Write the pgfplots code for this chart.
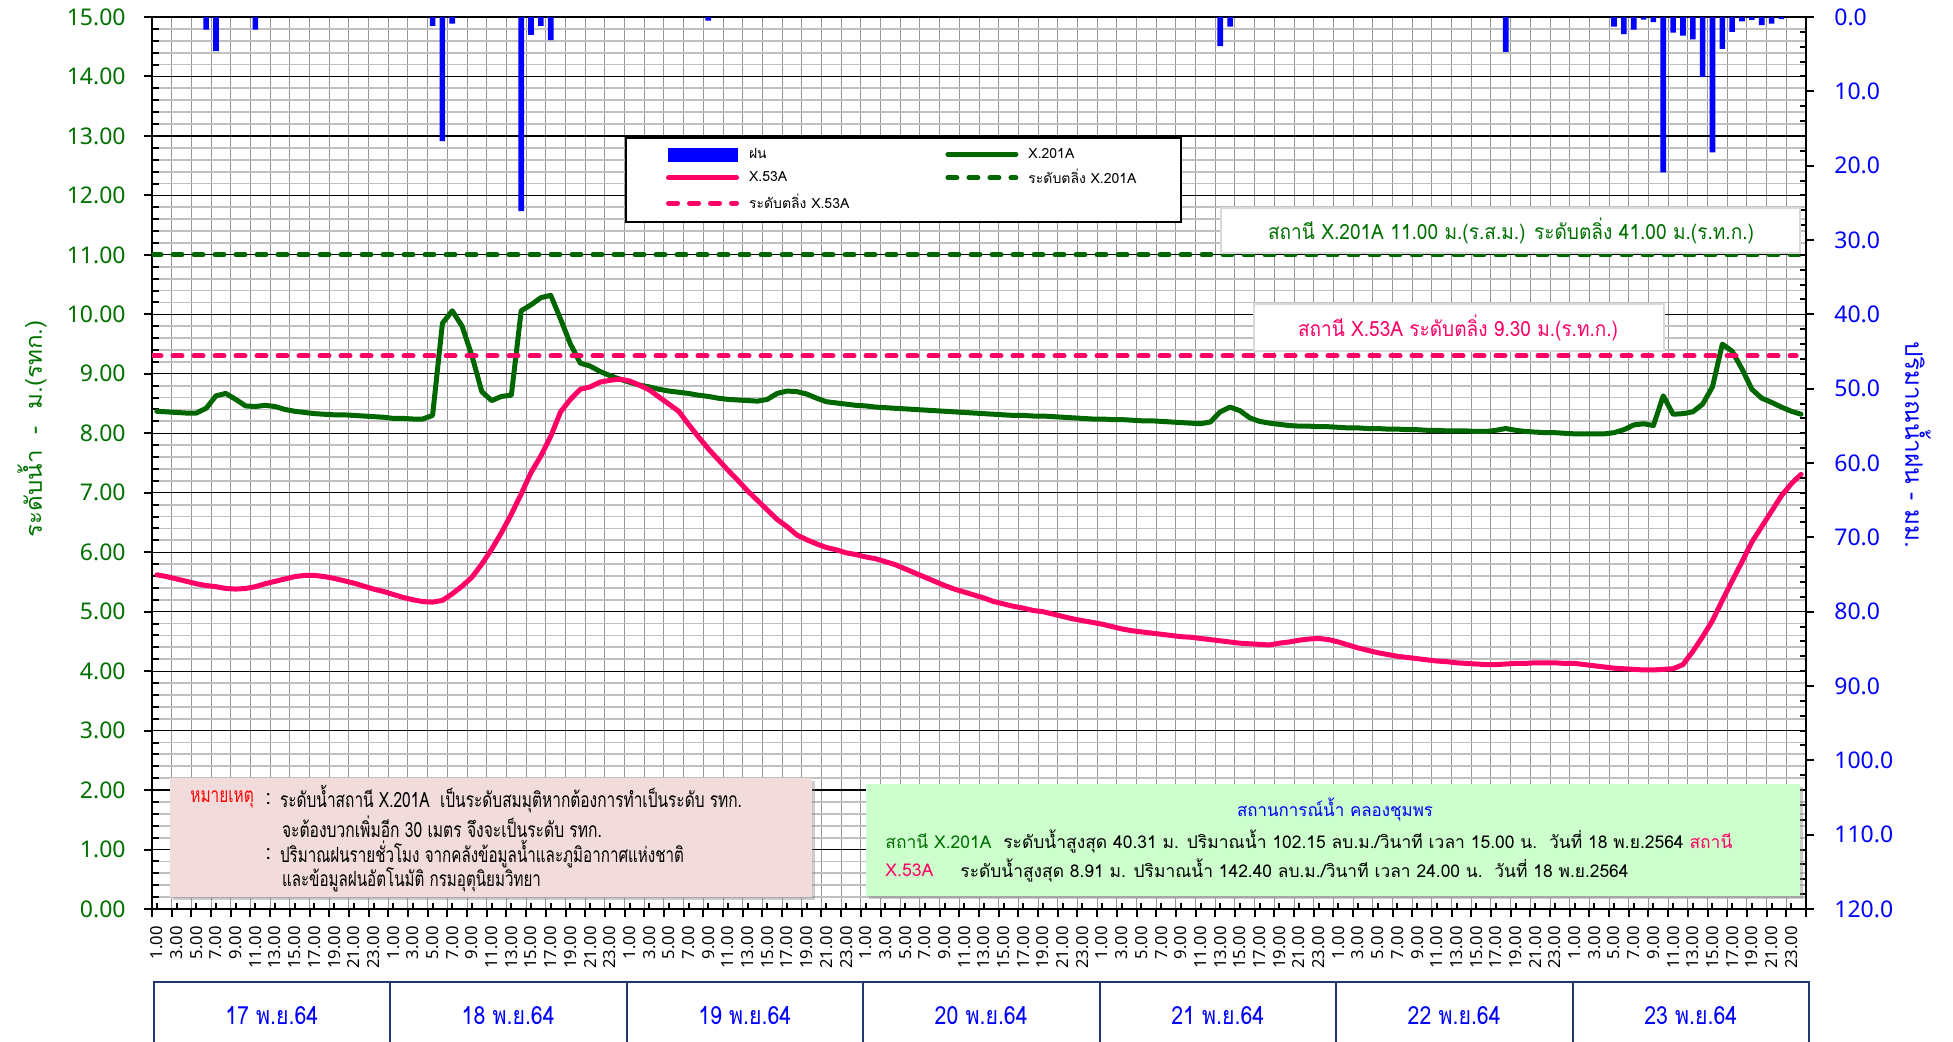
\documentclass[border=0pt]{standalone}
\usepackage{graphicx}
\usepackage{pgfplots}
\pgfplotsset{compat=1.18}
\usepackage{fontspec}
\usetikzlibrary{shadows}
\setmainfont{Noto Sans}
\newfontfamily\thai[Script=Thai]{Loma}
\definecolor{lgreen}{RGB}{0,102,0}
\definecolor{tgreen}{RGB}{0,112,0}
\definecolor{cpink}{RGB}{255,0,102}
\definecolor{cblue}{RGB}{0,0,255}
\definecolor{cnavy}{RGB}{31,56,110}
\definecolor{notefill}{RGB}{242,220,219}
\definecolor{sitfill}{RGB}{204,255,204}
\definecolor{minorgray}{RGB}{192,192,192}
\definecolor{vgray}{RGB}{150,150,150}
\newcommand{\fw}[2]{\resizebox{#1}{\height}{#2}}

\begin{document}
\begin{tikzpicture}
\begin{axis}[
  at={(76pt,66pt)}, anchor=south west,
  width=827pt, height=446pt, scale only axis,
  xmin=0.5, xmax=168.5, ymin=0, ymax=15,
  axis line style={black, line width=1.3pt},
  xtick={0.5,2.5,...,168.5},
  xticklabel=\empty,
  xtick pos=bottom,
  xmajorgrids=true,
  major x grid style={vgray, line width=0.5pt},
  extra x ticks={1,3,...,167},
  extra x tick style={grid=none, tick align=inside, major tick length=3pt,
     xticklabel={\pgfmathparse{int(mod(round(\tick)-1,24)+1)}\pgfmathresult.00},
     xticklabel style={font=\fontsize{8.3}{9}\selectfont, rotate=90, anchor=east, inner xsep=8.5pt, inner ysep=0pt}},
  ytick={0,1,...,15}, minor y tick num=4,
  ytick pos=left,
  ymajorgrids=true, yminorgrids=true,
  major y grid style={black, line width=0.6pt},
  minor y grid style={minorgray, line width=0.9pt},
  tick align=outside, major tick length=4pt, minor tick length=3.5pt,
  tick style={black, line width=1pt},
  every minor tick/.append style={xshift=3.5pt},
  yticklabel style={font=\fontsize{11.5}{13}\selectfont, text=tgreen, inner xsep=9pt,
     /pgf/number format/fixed, /pgf/number format/fixed zerofill, /pgf/number format/precision=2},
  /pgf/number format/assume math mode=true,
  legend columns=2,
  legend cell align=left,
  legend style={at={(0.286,0.8655)}, anchor=north west, draw=black, line width=1pt, fill=white,
     font=\thai\fontsize{7}{8}\selectfont, inner xsep=20pt, inner ysep=3pt, row sep=0pt,
     /tikz/every even column/.append style={column sep=46pt},
     /tikz/every odd column/.append style={column sep=3pt}},
  legend image code/.code={\draw[#1] (0pt,0pt) -- (34pt,0pt);},
]
\addlegendimage{legend image code/.code={\fill[cblue] (0pt,-3pt) rectangle (34pt,3pt);}}
\addlegendentry{ฝน}
\addplot[lgreen, line width=2.5pt, line join=round, line cap=round] coordinates {
(1,8.37)(2,8.36)(3,8.35)(4,8.34)(5,8.34)(6,8.42)(7,8.63)(8,8.67)(9,8.57)(10,8.46)
(11,8.45)(12,8.47)(13,8.45)(14,8.40)(15,8.37)(16,8.35)(17,8.33)(18,8.32)(19,8.31)(20,8.31)
(21,8.30)(22,8.29)(23,8.28)(24,8.27)(25,8.25)(26,8.25)(27,8.24)(28,8.24)(29,8.30)(30,9.85)
(31,10.06)(32,9.80)(33,9.30)(34,8.70)(35,8.55)(36,8.62)(37,8.64)(38,10.06)(39,10.16)(40,10.28)
(41,10.32)(42,9.92)(43,9.50)(44,9.18)(45,9.13)(46,9.04)(47,8.97)(48,8.91)(49,8.86)(50,8.81)
(51,8.78)(52,8.74)(53,8.71)(54,8.69)(55,8.67)(56,8.64)(57,8.62)(58,8.59)(59,8.57)(60,8.56)
(61,8.55)(62,8.54)(63,8.57)(64,8.67)(65,8.71)(66,8.70)(67,8.66)(68,8.59)(69,8.53)(70,8.51)
(71,8.49)(72,8.47)(73,8.46)(74,8.44)(75,8.43)(76,8.42)(77,8.41)(78,8.40)(79,8.39)(80,8.38)
(81,8.37)(82,8.36)(83,8.35)(84,8.34)(85,8.33)(86,8.32)(87,8.31)(88,8.30)(89,8.30)(90,8.29)
(91,8.29)(92,8.28)(93,8.27)(94,8.26)(95,8.25)(96,8.24)(97,8.24)(98,8.23)(99,8.23)(100,8.22)
(101,8.21)(102,8.21)(103,8.20)(104,8.19)(105,8.18)(106,8.17)(107,8.16)(108,8.19)(109,8.36)(110,8.44)
(111,8.38)(112,8.26)(113,8.20)(114,8.17)(115,8.15)(116,8.13)(117,8.12)(118,8.12)(119,8.11)(120,8.11)
(121,8.10)(122,8.09)(123,8.09)(124,8.08)(125,8.08)(126,8.07)(127,8.07)(128,8.06)(129,8.06)(130,8.05)
(131,8.05)(132,8.04)(133,8.04)(134,8.04)(135,8.03)(136,8.03)(137,8.05)(138,8.08)(139,8.05)(140,8.03)
(141,8.02)(142,8.01)(143,8.01)(144,8.00)(145,7.99)(146,7.99)(147,7.99)(148,7.99)(149,8.01)(150,8.06)
(151,8.14)(152,8.16)(153,8.13)(154,8.63)(155,8.32)(156,8.33)(157,8.36)(158,8.49)(159,8.78)(160,9.50)
(161,9.38)(162,9.08)(163,8.74)(164,8.59)(165,8.52)(166,8.44)(167,8.37)(168,8.32)};
\addlegendentry{X.201A}
\addplot[cpink, line width=2.5pt, line join=round, line cap=round] coordinates {
(1,5.62)(2,5.59)(3,5.55)(4,5.51)(5,5.47)(6,5.44)(7,5.42)(8,5.39)(9,5.38)(10,5.39)
(11,5.42)(12,5.47)(13,5.51)(14,5.55)(15,5.59)(16,5.61)(17,5.61)(18,5.59)(19,5.56)(20,5.52)
(21,5.48)(22,5.43)(23,5.38)(24,5.34)(25,5.29)(26,5.24)(27,5.20)(28,5.17)(29,5.16)(30,5.19)
(31,5.30)(32,5.43)(33,5.58)(34,5.80)(35,6.05)(36,6.33)(37,6.64)(38,6.98)(39,7.34)(40,7.62)
(41,7.95)(42,8.36)(43,8.57)(44,8.74)(45,8.78)(46,8.86)(47,8.89)(48,8.91)(49,8.88)(50,8.81)
(51,8.73)(52,8.61)(53,8.49)(54,8.37)(55,8.15)(56,7.94)(57,7.74)(58,7.56)(59,7.38)(60,7.21)
(61,7.03)(62,6.87)(63,6.71)(64,6.55)(65,6.43)(66,6.29)(67,6.21)(68,6.14)(69,6.08)(70,6.04)
(71,5.99)(72,5.96)(73,5.92)(74,5.89)(75,5.84)(76,5.79)(77,5.72)(78,5.65)(79,5.58)(80,5.51)
(81,5.44)(82,5.38)(83,5.33)(84,5.28)(85,5.23)(86,5.17)(87,5.13)(88,5.09)(89,5.06)(90,5.02)
(91,5.00)(92,4.96)(93,4.92)(94,4.88)(95,4.85)(96,4.82)(97,4.79)(98,4.75)(99,4.71)(100,4.68)
(101,4.66)(102,4.64)(103,4.62)(104,4.60)(105,4.58)(106,4.57)(107,4.55)(108,4.53)(109,4.51)(110,4.49)
(111,4.47)(112,4.46)(113,4.45)(114,4.44)(115,4.47)(116,4.49)(117,4.52)(118,4.54)(119,4.55)(120,4.53)
(121,4.49)(122,4.44)(123,4.39)(124,4.35)(125,4.31)(126,4.28)(127,4.25)(128,4.23)(129,4.21)(130,4.19)
(131,4.17)(132,4.16)(133,4.14)(134,4.13)(135,4.12)(136,4.11)(137,4.11)(138,4.12)(139,4.13)(140,4.13)
(141,4.14)(142,4.14)(143,4.14)(144,4.13)(145,4.13)(146,4.11)(147,4.09)(148,4.07)(149,4.05)(150,4.04)
(151,4.03)(152,4.02)(153,4.02)(154,4.03)(155,4.04)(156,4.11)(157,4.33)(158,4.58)(159,4.85)(160,5.19)
(161,5.52)(162,5.84)(163,6.17)(164,6.43)(165,6.69)(166,6.95)(167,7.15)(168,7.31)};
\addlegendentry{X.53A}
\addplot[lgreen, line width=2.5pt, line cap=round, dash pattern=on 4.5pt off 6pt] coordinates {(0.5,11) (168.5,11)};
\addlegendentry{ระดับตลิ่ง X.201A}
\addplot[cpink, line width=2.5pt, line cap=round, dash pattern=on 4.5pt off 6pt] coordinates {(0.5,9.3) (167.5,9.3)};
\addlegendentry{ระดับตลิ่ง X.53A}
\end{axis}

\begin{axis}[
  at={(76pt,66pt)}, anchor=south west,
  width=827pt, height=446pt, scale only axis,
  xmin=0.5, xmax=168.5, ymin=0, ymax=120, y dir=reverse,
  axis x line=none, axis y line*=right,
  axis line style={black, line width=1.3pt},
  ytick={0,10,...,120}, minor y tick num=4,
  tick align=outside, major tick length=4pt, minor tick length=3pt,
  tick style={black, line width=1pt},
  every minor tick/.append style={xshift=-3pt},
  scaled y ticks=false,
  yticklabel style={font=\fontsize{11.5}{13}\selectfont, text=cblue, anchor=west, inner xsep=10pt,
     /pgf/number format/fixed, /pgf/number format/fixed zerofill, /pgf/number format/precision=1},
  /pgf/number format/assume math mode=true,
]
\addplot[ybar, bar width=2.8pt, fill=cblue, draw=none] coordinates {
(6,1.7)(7,4.6)(11,1.7)(29,1.2)(30,16.7)(31,0.9)(38,26.1)(39,2.4)(40,1.2)(41,3.1)
(57,0.5)(109,3.9)(110,1.3)(138,4.7)(149,1.3)(150,2.3)(151,1.7)(152,0.35)(153,0.7)(154,20.9)
(155,2.1)(156,2.5)(157,3.0)(158,8.1)(159,18.2)(160,4.3)(161,2.0)(162,0.6)(163,0.4)(164,1.1)
(165,0.9)(166,0.3)};
\end{axis}

% axis titles
\node[rotate=90, text=tgreen, font=\thai\fontsize{11.5}{13}\selectfont, inner sep=0pt] at (16pt,306pt) {\fw{108.5pt}{ระดับน้ำ\ \ -\ \ ม.(รทก.)}};
\node[rotate=-90, text=cblue, font=\thai\fontsize{12}{14}\selectfont, inner sep=0pt] at (959pt,298pt) {\fw{103pt}{ปริมาณน้ำฝน - มม.}};

% bank level boxes
\node[draw=gray!30, line width=1pt, fill=white, minimum width=289.5pt, minimum height=22.5pt, inner sep=0pt] at (755.25pt,405.25pt) {};
\node[text=tgreen, font=\thai\fontsize{10.5}{12}\selectfont, inner sep=0pt] at (755.5pt,405pt) {\fw{243pt}{สถานี X.201A 11.00 ม.(ร.ส.ม.) ระดับตลิ่ง 41.00 ม.(ร.ท.ก.)}};
\node[draw=gray!30, line width=1pt, fill=white, minimum width=205pt, minimum height=23.5pt, inner sep=0pt] at (729.5pt,356.75pt) {};
\node[text=cpink, font=\thai\fontsize{10.5}{12}\selectfont, inner sep=0pt] at (729pt,356.5pt) {\fw{160pt}{สถานี X.53A ระดับตลิ่ง 9.30 ม.(ร.ท.ก.)}};

% note box
\fill[notefill, drop shadow={shadow xshift=1.5pt, shadow yshift=-1.5pt, opacity=0.4}] (85pt,72pt) rectangle (406pt,131.5pt);
\begin{scope}[every node/.style={anchor=west, inner sep=0pt, font=\thai\fontsize{10.5}{12}\selectfont}]
\node[text=red] at (95pt,121pt) {\fw{31.7pt}{หมายเหตุ}};
\node at (132.5pt,121pt) {:};
\node at (139.8pt,121pt) {\fw{231pt}{ระดับน้ำสถานี X.201A\ \ เป็นระดับสมมุติหากต้องการทำเป็นระดับ รทก.}};
\node at (140.8pt,107pt) {\fw{160pt}{จะต้องบวกเพิ่มอีก 30 เมตร จึงจะเป็นระดับ รทก.}};
\node at (132.5pt,93.5pt) {:};
\node at (139.8pt,93.5pt) {\fw{202pt}{ปริมาณฝนรายชั่วโมง จากคลังข้อมูลน้ำและภูมิอากาศแห่งชาติ}};
\node at (140.8pt,80.5pt) {\fw{129.5pt}{และข้อมูลฝนอัตโนมัติ กรมอุตุนิยมวิทยา}};
\end{scope}

% situation box
\fill[sitfill, drop shadow={shadow xshift=1.5pt, shadow yshift=-1.5pt, opacity=0.4}] (433pt,72.5pt) rectangle (900pt,128.5pt);
\begin{scope}[every node/.style={inner sep=0pt, font=\thai\fontsize{8.8}{10}\selectfont}]
\node[text=cblue] at (667.5pt,116pt) {\fw{98pt}{สถานการณ์น้ำ คลองชุมพร}};
\node[anchor=west] at (442.5pt,99.7pt) {\fw{423.5pt}{\textcolor{tgreen}{สถานี X.201A}\ \ ระดับน้ำสูงสุด 40.31 ม. ปริมาณน้ำ 102.15 ลบ.ม./วินาที เวลา 15.00 น.\ \ วันที่ 18 พ.ย.2564 \textcolor{cpink}{สถานี}}};
\node[anchor=west, text=cpink] at (442.5pt,85.5pt) {\fw{24pt}{X.53A}};
\node[anchor=west] at (480pt,85.5pt) {\fw{334pt}{ระดับน้ำสูงสุด 8.91 ม. ปริมาณน้ำ 142.40 ลบ.ม./วินาที เวลา 24.00 น.\ \ วันที่ 18 พ.ย.2564}};
\end{scope}

% date boxes
\draw[cnavy, line width=1pt] (76.75pt,-5pt) -- (76.75pt,29.5pt) -- (904.5pt,29.5pt) -- (904.5pt,-5pt);
\foreach \xx in {195,313.25,431.5,549.75,668,786.25} \draw[cnavy, line width=1pt] (\xx pt,-5pt) -- (\xx pt,29.5pt);
\begin{scope}[every node/.style={inner sep=0pt, text=cblue, font=\thai\fontsize{12.5}{14}\selectfont}]
\node at (135.9pt,12.5pt) {\fw{46.5pt}{17 พ.ย.64}};
\node at (254.1pt,12.5pt) {\fw{46.5pt}{18 พ.ย.64}};
\node at (372.4pt,12.5pt) {\fw{46.5pt}{19 พ.ย.64}};
\node at (490.6pt,12.5pt) {\fw{46.5pt}{20 พ.ย.64}};
\node at (608.9pt,12.5pt) {\fw{46.5pt}{21 พ.ย.64}};
\node at (727.1pt,12.5pt) {\fw{46.5pt}{22 พ.ย.64}};
\node at (845.4pt,12.5pt) {\fw{46.5pt}{23 พ.ย.64}};
\end{scope}

\pgfresetboundingbox
\useasboundingbox (0pt,0pt) rectangle (976.5pt,520.5pt);
\end{tikzpicture}
\end{document}
